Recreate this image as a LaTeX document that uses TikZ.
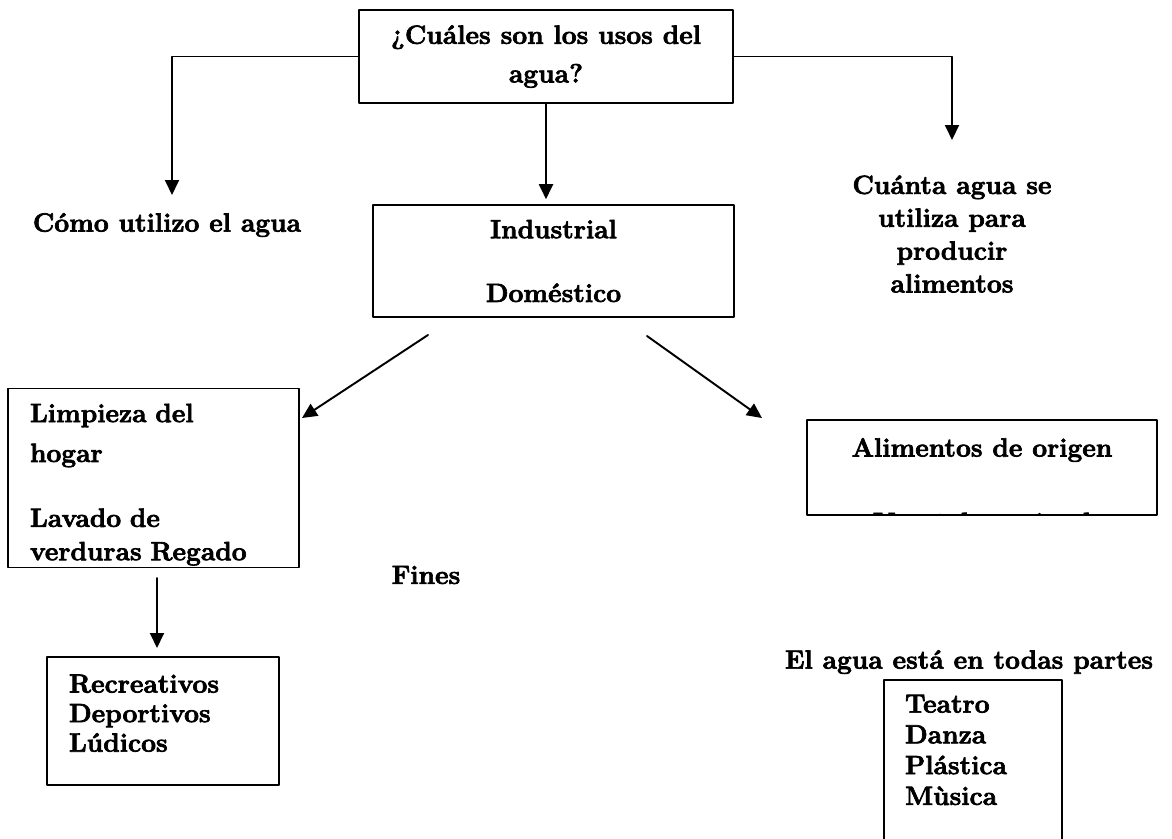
\documentclass[tikz,border=0pt]{standalone}
\usepackage{fontspec}
\setmainfont{Latin Modern Roman}[BoldFeatures={FakeBold=2.6}]
\usepackage{tikz}
\usetikzlibrary{arrows.meta,calc}
\tikzset{
  caja/.style={draw,line width=0.9pt,inner sep=0pt},
  flecha/.style={-{Triangle[length=0.3cm,width=0.28cm]},line width=1.1pt},
  texto/.style={font=\fontsize{15}{17.5}\selectfont\bfseries}
}

\begin{document}
\begin{tikzpicture}[line cap=round,line join=round,x=0.02cm,y=-0.02cm,texto]
                \path[use as bounding box,clip] (0,0) rectangle (1172,838);
                % cajas
                \node[caja,minimum width=7.48cm,minimum height=1.86cm,align=center,font=\fontsize{15}{22}\selectfont\bfseries] (usos) at (546,56.5) {¿Cuáles son los usos del\\agua?};
                \node[caja,minimum width=7.22cm,minimum height=2.24cm,align=center] (tipos) at (553.5,261) {Industrial\\[0.66cm]Doméstico};
                \node[caja,minimum height=3.58cm,text width=4.94cm,inner xsep=0.44cm,align=left,font=\fontsize{15}{19}\selectfont\bfseries] (hogar) at (153.5,478) {\rule{0pt}{18pt}Limpieza del\\[0.13cm]hogar\\[0.63cm]Lavado de\\verduras Regado};
                \node[caja,minimum height=2.56cm,text width=3.76cm,inner xsep=0.44cm,align=left,font=\fontsize{15}{16.8}\selectfont\bfseries] (recreo) at (163,721) {Recreativos\\Deportivos\\Lúdicos\rule[-9pt]{0pt}{0pt}};
                \node[caja,minimum width=7cm,minimum height=1.9cm] (alimentos) at (982,467.5) {};
                \node[caja,anchor=north,text width=2.72cm,inner xsep=0.42cm,inner ysep=0.3cm,align=left] (artes) at (973,679) {Teatro\\Danza\\Plástica\\Mùsica\\~};
                % textos sueltos
                \node (como) at (167,225) {Cómo utilizo el agua};
                \node[align=center,font=\fontsize{15}{18.7}\selectfont\bfseries] (cuanta) at (952,234) {Cuánta agua se\\utiliza para\\producir\\alimentos};
                \node (origen) at (982,450) {Alimentos de origen};
                \begin{scope}
                    \clip (alimentos.south west) rectangle (alimentos.north east);
                    \node[anchor=base] (vegetal) at (982,531) {Vegetal y animal};
                \end{scope}
                \node (fines) at (426,575) {Fines};
                \node (partes) at (969,662) {El agua está en todas partes};
                % flechas
                \coordinate (comoin) at (172,195);
                \coordinate (cuantain) at (952,140);
                \coordinate (tiposizq) at (428,335);
                \coordinate (hogarin) at (302,418);
                \coordinate (tiposder) at (647,336);
                \coordinate (alimin) at (762,418);
                \coordinate (hogarout) at (157,578);
                \coordinate (recreoin) at (157,648);
                \draw[flecha] (usos.west) -| (comoin);
                \draw[flecha] (usos.east) -| (cuantain);
                \draw[flecha,shorten >=0.1cm] (usos.south) -- (usos.south |- tipos.north);
                \draw[flecha] (tiposizq) -- (hogarin);
                \draw[flecha] (tiposder) -- (alimin);
                \draw[flecha] (hogarout) -- (recreoin);
            \end{tikzpicture}
\end{document}
